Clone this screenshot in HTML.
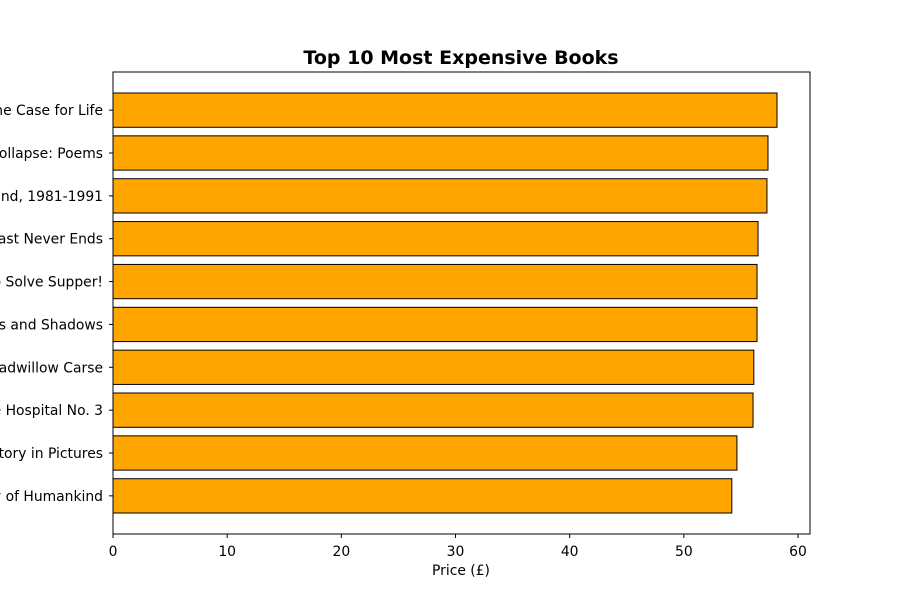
<!DOCTYPE html>
<html><head><meta charset="utf-8"><style>
body{margin:0;background:#fff;}
svg{font-family:"DejaVu Sans","Liberation Sans",sans-serif;}
</style></head><body>
<svg id="chart" width="900" height="600"></svg>
<script>
const categories=["The Case for Life","Collapse: Poems","Sound, 1981-1991","The Feast Never Ends","How to Solve Supper!","Shards and Shadows","Broadwillow Carse","The Hospital No. 3","A History in Pictures","History of Humankind"];
const prices=[58.16,57.37,57.28,56.5,56.41,56.41,56.13,56.06,54.65,54.2];
const xTicks=[0,10,20,30,40,50,60];
const NS="http://www.w3.org/2000/svg";
const svg=document.getElementById('chart');
const L=113,R=810,T=72,B=534,xMax=61.05;
const x=v=>L+(v/xMax)*(R-L);
const n=categories.length;
const yMin=-0.4-0.05*(n-0.2), yMax=n-1+0.4+0.05*(n-0.2);
const unit=(B-T)/(yMax-yMin);
const y=i=>T+(i-yMin)*unit;
function mk(t,a){const e=document.createElementNS(NS,t);for(const k in a)e.setAttribute(k,a[k]);svg.appendChild(e);return e;}
const title=mk('text',{x:461,y:64,'text-anchor':'middle','font-size':19,'font-weight':'bold'});
title.textContent="Top 10 Most Expensive Books";


categories.forEach((c,i)=>{
  const bh=unit*0.8;
  const r=mk('rect',{x:L,y:y(i)-bh/2,width:x(prices[i])-L,height:bh,fill:'#ffa500',stroke:'#000','stroke-width':1});
  
  
  mk('line',{x1:L-4,x2:L,y1:y(i),y2:y(i),stroke:'#000'});
  const t=mk('text',{x:L-10,y:y(i)+5,'text-anchor':'end','font-size':13.9});
  t.textContent=c;
  
  
});
xTicks.forEach(v=>{
  mk('line',{x1:x(v),x2:x(v),y1:B,y2:B+4,stroke:'#000'});
  const t=mk('text',{x:x(v),y:B+22,'text-anchor':'middle','font-size':13.9});
  t.textContent=v;
  
  
});
const frame=mk('rect',{x:L,y:T,width:R-L,height:B-T,fill:'none',stroke:'#000','stroke-width':1});


const xl=mk('text',{x:461,y:575,'text-anchor':'middle','font-size':13.9});
xl.textContent="Price (£)";


</script>
</body></html>
